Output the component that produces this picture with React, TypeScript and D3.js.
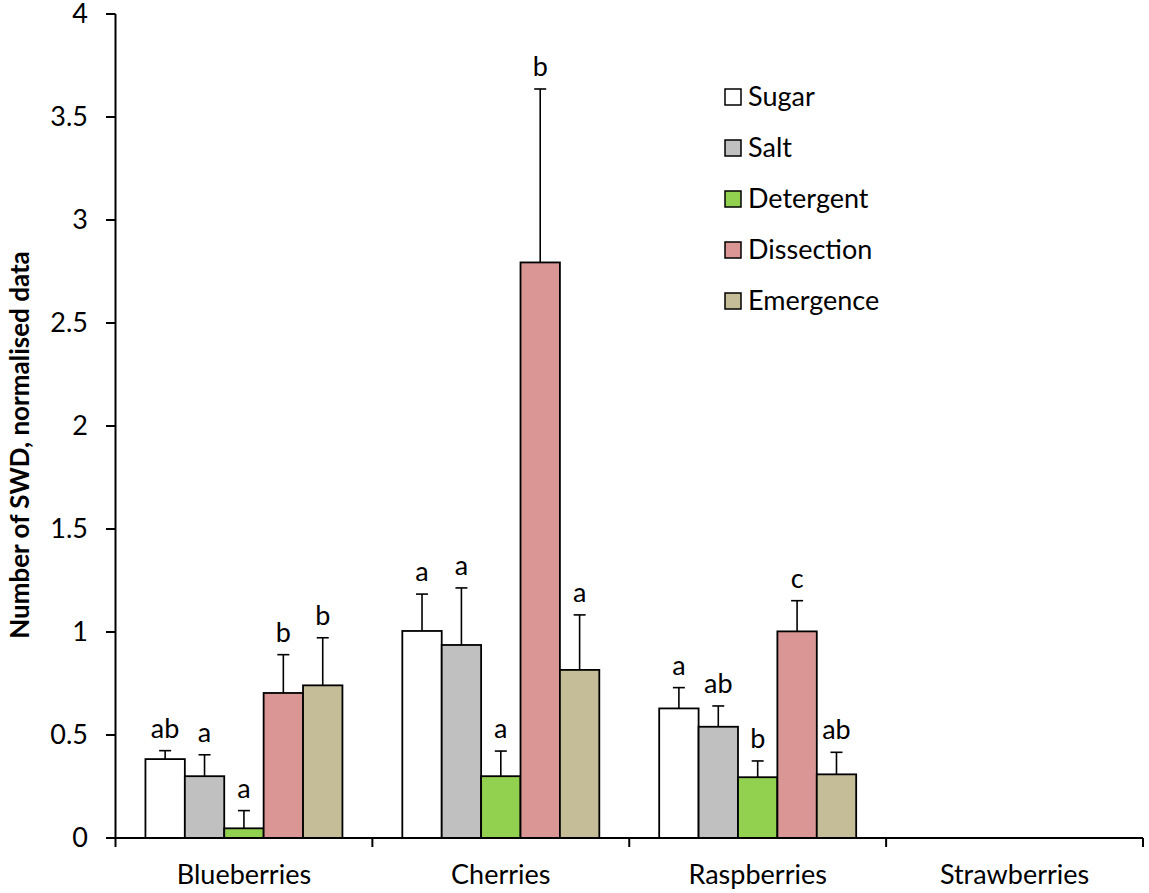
import React from "react";
import * as d3 from "d3";

const categories = ["Blueberries", "Cherries", "Raspberries", "Strawberries"];
const seriesNames = ["Sugar", "Salt", "Detergent", "Dissection", "Emergence"];
const seriesColors = ["#ffffff", "#c0c0c0", "#92d050", "#da9694", "#c4bd97"];

// values per series, per category (null = no bar)
const sugarValues = [0.383, 1.005, 0.629, null];
const saltValues = [0.300, 0.937, 0.540, null];
const detergentValues = [0.047, 0.300, 0.295, null];
const dissectionValues = [0.704, 2.794, 1.003, null];
const emergenceValues = [0.741, 0.816, 0.309, null];

// upper error (value + SE)
const sugarErr = [0.424, 1.184, 0.730, null];
const saltErr = [0.404, 1.214, 0.641, null];
const detergentErr = [0.133, 0.422, 0.374, null];
const dissectionErr = [0.890, 3.636, 1.152, null];
const emergenceErr = [0.972, 1.083, 0.416, null];

const sugarLetters = ["ab", "a", "a", ""];
const saltLetters = ["a", "a", "ab", ""];
const detergentLetters = ["a", "a", "b", ""];
const dissectionLetters = ["b", "b", "c", ""];
const emergenceLetters = ["b", "a", "ab", ""];

const yTicks = [0, 0.5, 1, 1.5, 2, 2.5, 3, 3.5, 4];
const yTickLabels = ["0", "0.5", "1", "1.5", "2", "2.5", "3", "3.5", "4"];

const allValues = [sugarValues, saltValues, detergentValues, dissectionValues, emergenceValues];
const allErr = [sugarErr, saltErr, detergentErr, dissectionErr, emergenceErr];
const allLetters = [sugarLetters, saltLetters, detergentLetters, dissectionLetters, emergenceLetters];

const W = 1149;
const H = 893;
const FONT = "Lato, 'Open Sans', sans-serif";
const FS = 27;

export default function App() {
  const x0 = d3.scaleBand<string>().domain(categories).range([115.5, 1143]).paddingInner(0).paddingOuter(0);
  const x1 = d3
    .scaleBand<string>()
    .domain(seriesNames)
    .range([0, x0.bandwidth()])
    .paddingInner(0)
    .paddingOuter(0.76);
  const y = d3.scaleLinear().domain([0, 4]).range([838, 14]);
  const bw = x1.bandwidth();
  const capHalf = 6;

  return (
    <svg width={W} height={H} style={{ position: "absolute", left: 0, top: 0, background: "#fff" }} fontFamily={FONT}>
      <rect x={0} y={0} width={W} height={H} fill="#fff" />
      {/* bars */}
      {seriesNames.map((s, si) =>
        categories.map((c, ci) => {
          const v = allValues[si][ci];
          if (v == null) return null;
          const bx = (x0(c) as number) + (x1(s) as number);
          const top = y(v);
          const e = allErr[si][ci] as number;
          const cx = bx + bw / 2;
          return (
            <g key={`${s}-${c}`}>
              <line x1={cx} x2={cx} y1={top} y2={y(e)} stroke="#000" strokeWidth={1.6} />
              <line x1={cx - capHalf} x2={cx + capHalf} y1={y(e)} y2={y(e)} stroke="#000" strokeWidth={1.6} />
              <rect x={bx} y={top} width={bw} height={y(0) - top} fill={seriesColors[si]} stroke="#000" strokeWidth={1.8} />
              <text x={cx} y={y(e) - 13} textAnchor="middle" fontSize={FS} fill="#000">
                {allLetters[si][ci]}
              </text>
            </g>
          );
        })
      )}
      {/* y axis */}
      <line x1={115.5} x2={115.5} y1={y(4)} y2={y(0)} stroke="#000" strokeWidth={2} />
      {yTicks.map((t, i) => (
        <g key={t}>
          <line x1={106} x2={115.5} y1={y(t)} y2={y(t)} stroke="#000" strokeWidth={2} />
          <text x={88} y={y(t)} dy="0.35em" textAnchor="end" fontSize={FS} fill="#000">
            {yTickLabels[i]}
          </text>
        </g>
      ))}
      {/* x axis */}
      <line x1={115.5} x2={1143} y1={838} y2={838} stroke="#000" strokeWidth={2} />
      {categories.map((c, i) => (
        <g key={c}>
          <line x1={x0(c) as number} x2={x0(c) as number} y1={838} y2={847} stroke="#000" strokeWidth={2} />
          {i === categories.length - 1 && (
            <line x1={1143} x2={1143} y1={838} y2={847} stroke="#000" strokeWidth={2} />
          )}
          <text x={(x0(c) as number) + x0.bandwidth() / 2} y={884} textAnchor="middle" fontSize={FS} fill="#000">
            {c}
          </text>
        </g>
      ))}
      {/* y title */}
      <text
        transform={`translate(29, 445) rotate(-90)`}
        textAnchor="middle"
        fontSize={26}
        fontWeight="bold"
        fill="#000"
      >
        Number of SWD, normalised data
      </text>
      {/* legend */}
      {seriesNames.map((s, i) => {
        const ly = 97 + i * 51;
        return (
          <g key={s}>
            <rect x={725} y={ly - 8} width={16} height={16} fill={seriesColors[i]} stroke="#000" strokeWidth={1.5} />
            <text x={748} y={ly} dy="0.35em" fontSize={FS} fill="#000">
              {s}
            </text>
          </g>
        );
      })}
    </svg>
  );
}
